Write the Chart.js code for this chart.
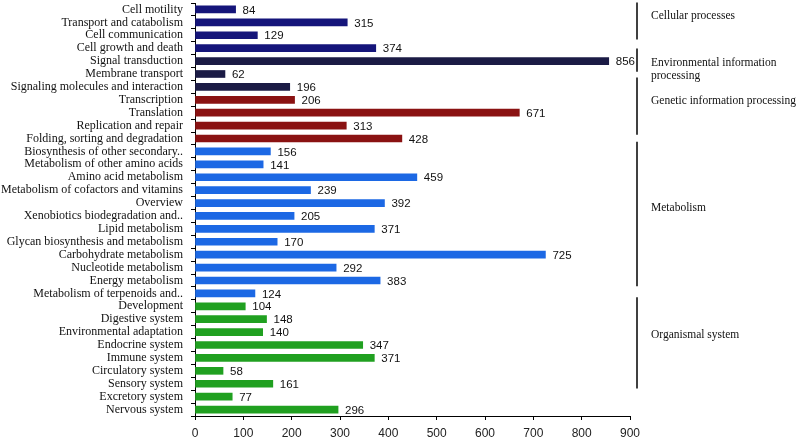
<!DOCTYPE html>
<html>
<head>
<meta charset="utf-8">
<script src="https://cdn.jsdelivr.net/npm/chart.js@4.4.0/dist/chart.umd.min.js"></script>
<style>
  html, body { margin: 0; padding: 0; background: #fff; }
  #wrap { width: 799px; height: 442px; }
</style>
</head>
<body>
<div id="wrap"><canvas id="keggChart"></canvas></div>
<script>
// Categories, top to bottom
const categories = [
    'Cell motility', 'Transport and catabolism', 'Cell communication', 'Cell growth and death',
    'Signal transduction', 'Membrane transport', 'Signaling molecules and interaction',
    'Transcription', 'Translation', 'Replication and repair', 'Folding, sorting and degradation',
    'Biosynthesis of other secondary..', 'Metabolism of other amino acids', 'Amino acid metabolism',
    'Metabolism of cofactors and vitamins', 'Overview', 'Xenobiotics biodegradation and..',
    'Lipid metabolism', 'Glycan biosynthesis and metabolism', 'Carbohydrate metabolism',
    'Nucleotide metabolism', 'Energy metabolism', 'Metabolism of terpenoids and..',
    'Development', 'Digestive system', 'Environmental adaptation', 'Endocrine system',
    'Immune system', 'Circulatory system', 'Sensory system', 'Excretory system', 'Nervous system'
];

const geneCounts = [
    84, 315, 129, 374,
    856, 62, 196,
    206, 671, 313, 428,
    156, 141, 459, 239, 392, 205, 371, 170, 725, 292, 383, 124,
    104, 148, 140, 347, 371, 58, 161, 77, 296
];

// group of each category (index into groupColors)
const groupOf = [
    0, 0, 0, 0,
    1, 1, 1,
    2, 2, 2, 2,
    3, 3, 3, 3, 3, 3, 3, 3, 3, 3, 3, 3,
    4, 4, 4, 4, 4, 4, 4, 4, 4
];

const groupColors = ['#15157a', '#1b1b45', '#8a1212', '#1c68e4', '#20a020'];

const xTicks = [0, 100, 200, 300, 400, 500, 600, 700, 800, 900];

// right side brackets, spans given in category-index units
const brackets = [
    { from: -0.54, to: 2.33, text: ['Cellular processes'], at: 0.47 },
    { from: 3.03, to: 4.82, text: ['Environmental information', 'processing'], at: 4.62 },
    { from: 5.28, to: 9.71, text: ['Genetic information processing'], at: 7.07 },
    { from: 10.26, to: 21.45, text: ['Metabolism'], at: 15.4 },
    { from: 22.3, to: 29.37, text: ['Organismal system'], at: 25.2 }
];

const sansFont = '"Liberation Sans", "DejaVu Sans", sans-serif';
const serifFont = '"Liberation Serif", "DejaVu Serif", serif';

const valueLabels = {
    id: 'valueLabels',
    afterDatasetsDraw(chart) {
        const ctx = chart.ctx;
        const meta = chart.getDatasetMeta(0);
        ctx.save();
        ctx.font = '11.5px ' + sansFont;
        ctx.fillStyle = '#111';
        ctx.textBaseline = 'middle';
        ctx.textAlign = 'left';
        meta.data.forEach((bar, i) => {
            ctx.fillText(String(geneCounts[i]), bar.x + 7, bar.y + 1);
        });
        ctx.restore();
    }
};

const groupBrackets = {
    id: 'groupBrackets',
    afterDraw(chart) {
        const ctx = chart.ctx;
        const y = chart.scales.y;
        const lineX = 637;
        ctx.save();
        ctx.strokeStyle = '#000';
        ctx.lineWidth = 1.5;
        ctx.fillStyle = '#111';
        ctx.font = '11.5px ' + serifFont;
        ctx.textBaseline = 'middle';
        brackets.forEach(b => {
            ctx.beginPath();
            ctx.moveTo(lineX, y.getPixelForValue(b.from));
            ctx.lineTo(lineX, y.getPixelForValue(b.to));
            ctx.stroke();
            const cy = y.getPixelForValue(b.at);
            b.text.forEach((t, k) => {
                ctx.fillText(t, lineX + 14, cy + (k - (b.text.length - 1) / 2) * 13);
            });
        });
        ctx.restore();
    }
};

const ctx = document.getElementById('keggChart').getContext('2d');
new Chart(ctx, {
    type: 'bar',
    data: {
        labels: categories,
        datasets: [{
            data: geneCounts,
            backgroundColor: groupOf.map(g => groupColors[g]),
            barThickness: 7
        }]
    },
    options: {
        indexAxis: 'y',
        responsive: true,
        maintainAspectRatio: false,
        animation: false,
        layout: { padding: { top: 3, right: 169, left: 0, bottom: 0 } },
        plugins: {
            legend: { display: false },
            tooltip: { enabled: false }
        },
        scales: {
            x: {
                min: 0,
                max: 900,
                afterBuildTicks: scale => { scale.ticks = xTicks.map(v => ({ value: v })); },
                afterFit: scale => {
                    scale.height = 26;
                    scale.paddingLeft = 0;
                    scale.paddingRight = 0;
                },
                border: { color: '#000', width: 1 },
                grid: { drawOnChartArea: false, tickLength: 4, color: '#000' },
                ticks: {
                    color: '#222',
                    padding: 6,
                    maxRotation: 0,
                    font: { family: sansFont, size: 12 }
                }
            },
            y: {
                afterFit: scale => {
                    scale.width = 195;
                    scale.paddingTop = 0;
                    scale.paddingBottom = 0;
                },
                border: { color: '#000', width: 1 },
                grid: { drawOnChartArea: false, offset: true, tickLength: 4, color: '#000' },
                ticks: {
                    autoSkip: false,
                    color: '#111',
                    padding: 8,
                    font: { family: serifFont, size: 12 }
                }
            }
        }
    },
    plugins: [valueLabels, groupBrackets]
});
</script>
</body>
</html>
